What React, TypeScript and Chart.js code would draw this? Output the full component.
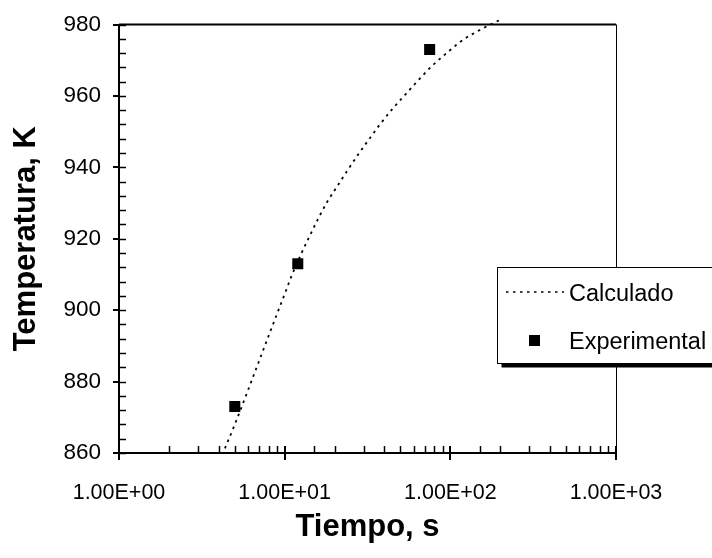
import React, { useEffect, useRef } from 'react';
import { Chart, registerables } from 'chart.js';

Chart.register(...registerables);

// ---- data ----
const expTime = [5, 12, 75];
const expTemp = [873, 913, 973];

const calcTime = [4.2, 5, 6, 7, 8, 9, 10, 11.1, 12.5, 14, 16, 18, 20.5, 24, 28, 32, 38, 45, 54, 65, 78, 95, 120, 150, 180, 200];
const calcTemp = [859.5, 868, 877.5, 885.7, 892.8, 899, 904.5, 910, 915.5, 920.3, 925.8, 930.2, 934.3, 939.2, 943.8, 947.6, 952.3, 956.5, 960.6, 964.7, 968.5, 972, 975.8, 978.4, 980.3, 981.3];

const seriesLabels = ['Calculado', 'Experimental'];
const xTitle = 'Tiempo, s';
const yTitle = 'Temperatura, K';
const xMin = 1;
const xMax = 1000;
const yMin = 860;
const yMax = 980;
const yStep = 20;
const yMinorStep = 4;

const FONT = '"Liberation Sans", Arial, sans-serif';

const fmtSci = (v: number) => {
  const e = Math.round(Math.log10(v));
  if (Math.abs(v - Math.pow(10, e)) > 1e-9 * v) return '';
  return `1.00E${e < 0 ? '-' : '+'}${String(Math.abs(e)).padStart(2, '0')}`;
};

const decorPlugin = {
  id: 'decor',
  afterDraw(chart: any) {
    const { ctx, chartArea: a, scales } = chart;
    const xs = scales.x;
    const ys = scales.y;
    ctx.save();
    ctx.strokeStyle = '#000';
    ctx.setLineDash([]);

    // top border (thick) and right border (thin)
    ctx.lineWidth = 2;
    ctx.beginPath();
    ctx.moveTo(a.left, a.top);
    ctx.lineTo(a.right, a.top);
    ctx.stroke();
    ctx.lineWidth = 1;
    ctx.beginPath();
    ctx.moveTo(a.right + 0.5, a.top);
    ctx.lineTo(a.right + 0.5, a.bottom);
    ctx.stroke();

    // y ticks: major outward, minor inward
    for (let v = yMin; v <= yMax + 1e-9; v += yStep) {
      const y = Math.round(ys.getPixelForValue(v));
      ctx.lineWidth = 2;
      ctx.beginPath();
      ctx.moveTo(a.left - 6, y);
      ctx.lineTo(a.left, y);
      ctx.stroke();
    }
    for (let v = yMin; v <= yMax + 1e-9; v += yMinorStep) {
      const y = Math.round(ys.getPixelForValue(v)) + 0.5;
      ctx.lineWidth = 1.5;
      ctx.beginPath();
      ctx.moveTo(a.left, y);
      ctx.lineTo(a.left + 7, y);
      ctx.stroke();
    }

    // x ticks: majors cross, minors inward
    xs.ticks.forEach((t: any) => {
      const x = Math.round(xs.getPixelForValue(t.value));
      const major = fmtSci(t.value) !== '';
      ctx.lineWidth = major ? 2 : 1.5;
      ctx.beginPath();
      ctx.moveTo(x + (major ? 0 : 0.5), a.bottom - 7);
      ctx.lineTo(x + (major ? 0 : 0.5), major ? a.bottom + 7 : a.bottom);
      ctx.stroke();
    });

    // legend box with shadow
    const ds = chart.data.datasets;
    const bx = 497.5;
    const by = 267.5;
    const bw = 240;
    const bh = 96;
    ctx.fillStyle = '#000';
    ctx.fillRect(bx + 4, by + bh, bw, 4);
    ctx.fillStyle = '#fff';
    ctx.fillRect(bx, by, bw, bh);
    ctx.lineWidth = 1;
    ctx.strokeStyle = '#000';
    ctx.strokeRect(bx, by, bw, bh);

    ctx.font = `23.5px ${FONT}`;
    ctx.fillStyle = '#000';
    ctx.textAlign = 'left';
    ctx.textBaseline = 'middle';

    // line sample
    ctx.lineWidth = 1.5;
    ctx.setLineDash(ds[0].borderDash || []);
    ctx.strokeStyle = ds[0].borderColor;
    ctx.beginPath();
    ctx.moveTo(506, 292);
    ctx.lineTo(564, 292);
    ctx.stroke();
    ctx.setLineDash([]);
    ctx.fillText(ds[0].label, 569, 295);

    // marker sample
    ctx.fillStyle = ds[1].backgroundColor;
    ctx.fillRect(529, 335, 11, 11);
    ctx.fillStyle = '#000';
    ctx.fillText(ds[1].label, 569, 343);

    ctx.restore();
  },
};

export default function App() {
  const ref = useRef<HTMLCanvasElement | null>(null);

  useEffect(() => {
    if (!ref.current) return;
    const chart = new Chart(ref.current, {
      type: 'scatter',
      data: {
        datasets: [
          {
            label: seriesLabels[0],
            data: calcTime.map((t, i) => ({ x: t, y: calcTemp[i] })),
            showLine: true,
            borderColor: '#000',
            borderWidth: 1.8,
            borderDash: [2.5, 4.5],
            pointRadius: 0,
            pointHoverRadius: 0,
            cubicInterpolationMode: 'monotone',
            fill: false,
            clip: { left: 0, top: 8, right: 0, bottom: 0 },
          } as any,
          {
            label: seriesLabels[1],
            data: expTime.map((t, i) => ({ x: t, y: expTemp[i] })),
            showLine: false,
            pointStyle: 'rect',
            pointRadius: 7.8,
            pointBackgroundColor: '#000',
            pointBorderColor: '#000',
            pointBorderWidth: 0,
            backgroundColor: '#000',
            borderColor: '#000',
          } as any,
        ],
      },
      options: {
        responsive: false,
        animation: false,
        devicePixelRatio: 1,
        layout: { padding: { left: 0, right: 96, top: 22, bottom: 0 } },
        plugins: {
          legend: { display: false },
          tooltip: { enabled: false },
        },
        scales: {
          x: {
            type: 'logarithmic',
            min: xMin,
            max: xMax,
            afterFit: (s: any) => {
              s.height = 105;
            },
            grid: { display: false, drawTicks: true, tickLength: 7 },
            border: { display: true, color: '#000', width: 2 },
            ticks: {
              autoSkip: false,
              maxRotation: 0,
              minRotation: 0,
              padding: 20,
              color: '#000',
              font: { family: FONT, size: 21.5 },
              callback: (v: any) => fmtSci(Number(v)),
            },
            title: {
              display: true,
              text: xTitle,
              color: '#000',
              font: { family: FONT, size: 31, weight: 'bold' },
              padding: { top: 0, bottom: 12 },
            },
          },
          y: {
            type: 'linear',
            min: yMin,
            max: yMax,
            afterFit: (s: any) => {
              s.width = 119;
            },
            grid: { display: false, drawTicks: true, tickLength: 7 },
            border: { display: true, color: '#000', width: 2 },
            ticks: {
              stepSize: yStep,
              padding: 11,
              color: '#000',
              font: { family: FONT, size: 22.5 },
            },
            title: {
              display: true,
              text: yTitle,
              color: '#000',
              font: { family: FONT, size: 31, weight: 'bold' },
              padding: { top: 8, bottom: 0 },
            },
          },
        },
      } as any,
      plugins: [decorPlugin],
    });
    return () => chart.destroy();
  }, []);

  return (
    <div style={{ position: 'absolute', left: 0, top: 0, width: 712, height: 558, background: '#fff' }}>
      <canvas ref={ref} width={712} height={558} style={{ width: 712, height: 558, display: 'block' }} />
    </div>
  );
}
